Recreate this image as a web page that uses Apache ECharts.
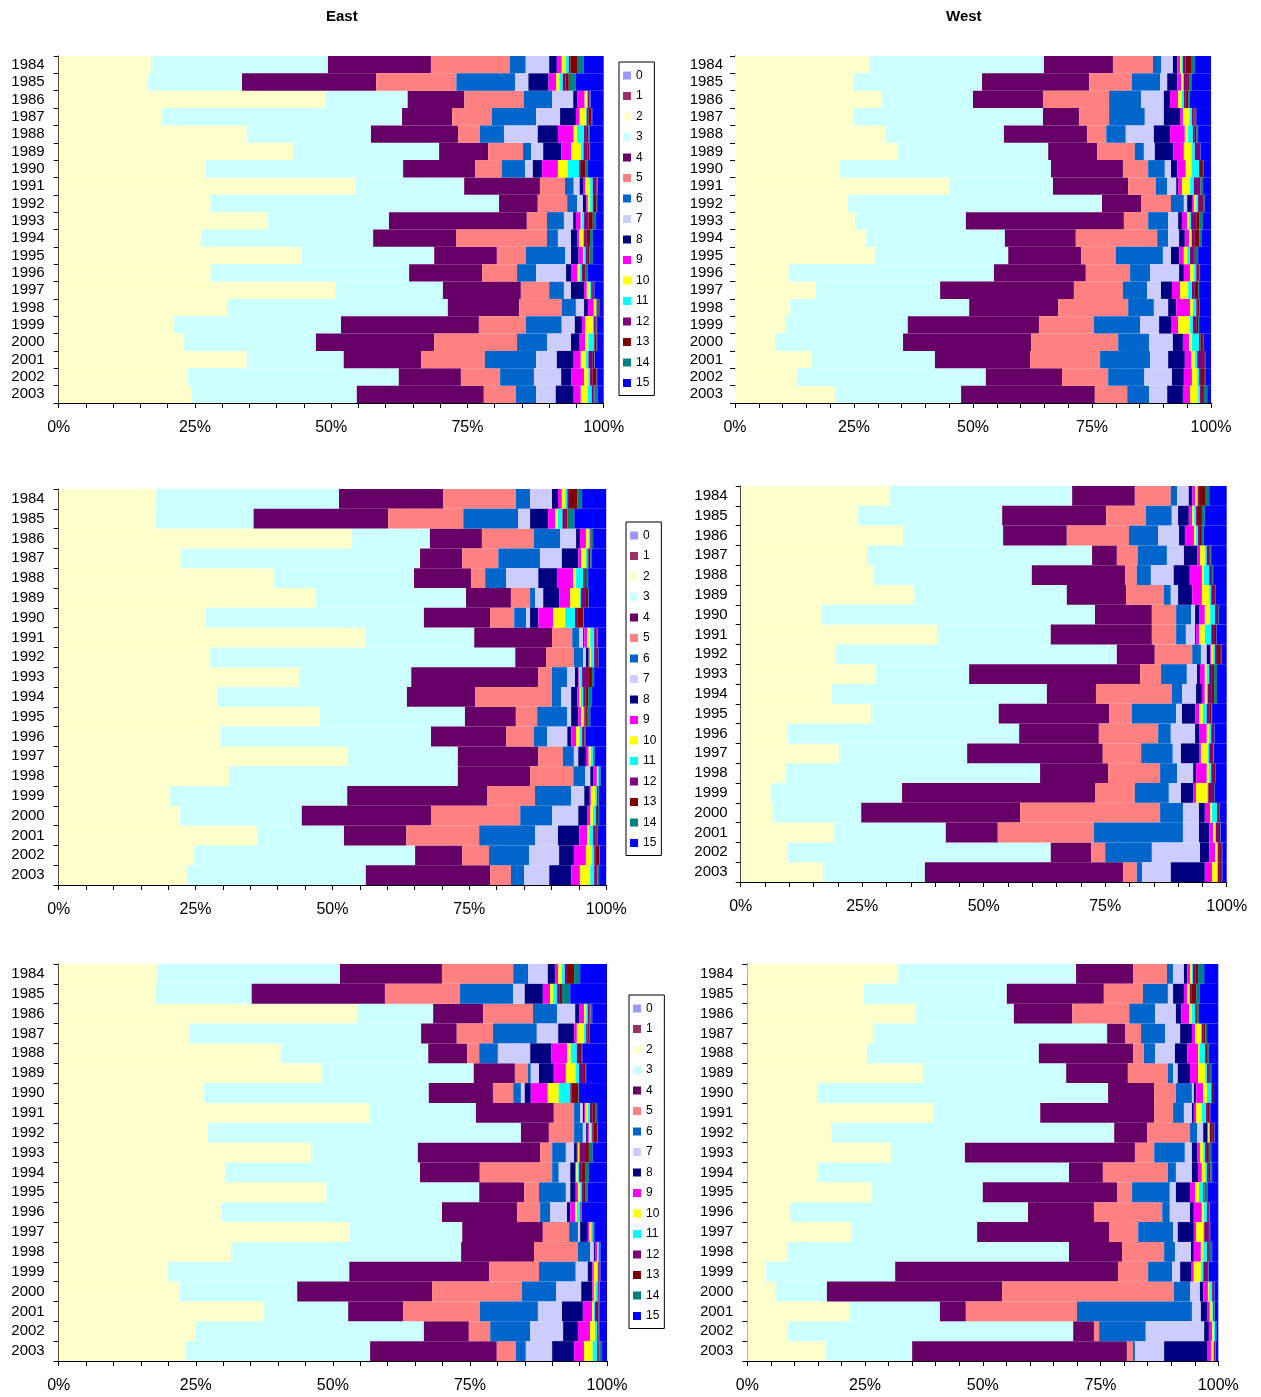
<!DOCTYPE html>
<html><head><meta charset="utf-8">
<script src="https://cdn.jsdelivr.net/npm/echarts@6/dist/echarts.min.js"></script>
<style>html,body{margin:0;padding:0;background:#fff}#c{width:1261px;height:1397px}</style>
</head><body><div id="c"></div>
<script>
// ---------- data ----------
const years = ['1984','1985','1986','1987','1988','1989','1990','1991','1992','1993','1994','1995','1996','1997','1998','1999','2000','2001','2002','2003'];
const categories = ['0','1','2','3','4','5','6','7','8','9','10','11','12','13','14','15'];
const panelTitles = ['East','West'];
const xTickLabels = [0,25,50,75,100];

// each row: share of categories 0..15 for one year (top = 1984)
const eastTop = [
[0,0,16.9,32.5,18.9,14.5,2.9,4.3,1.4,0.9,0.7,0.6,0.3,1.2,1.2,3.7],
[0,0,16.4,17.2,24.6,14.7,10.8,2.4,3.7,1.4,0.6,0.6,0.5,0.6,1.3,5.1],
[0,0,49.0,15.1,10.4,10.9,5.2,3.9,0.8,1.3,0.4,0.2,0.2,0.1,0.2,2.4],
[0,0,18.8,44.2,9.2,7.3,8.1,4.4,2.9,0.7,1.1,0.2,0.3,0.6,0.1,2.1],
[0,0,34.5,22.8,16.0,4.0,4.4,6.2,3.7,2.9,0.6,1.3,0.5,0.3,0.2,2.6],
[0,0,43.0,26.8,9.0,6.4,1.5,2.2,3.3,1.8,1.8,0.5,0.7,0.4,0.1,2.5],
[0,0,27.0,36.2,13.2,4.9,4.3,1.4,1.7,2.9,1.8,2.1,0.3,0.9,0.4,2.9],
[0,0,54.4,20.0,13.9,4.6,1.6,1.1,0.6,0.4,0.9,0.5,0.7,0.1,0.1,1.1],
[0,0,27.8,53.0,7.1,5.4,1.8,1.1,0.6,0.3,0.4,0.5,0.2,0.5,0.1,1.2],
[0,0,38.4,22.2,25.3,3.7,3.1,1.7,0.5,0.9,0.2,0.4,0.8,0.8,0.6,1.4],
[0,0,26.1,31.6,15.2,16.7,2.0,2.4,1.2,0.3,0.7,0.2,0.5,0.6,0.5,2.0],
[0,0,44.6,24.3,11.5,5.3,7.2,1.1,1.4,0.8,0.2,0.3,0.4,0.3,0.6,2.0],
[0,0,27.9,36.4,13.4,6.4,3.5,5.5,0.9,1.2,0.4,0.4,0.4,0.3,0.4,2.9],
[0,0,50.7,19.8,14.3,5.2,2.7,1.3,2.4,0.5,0.6,0.2,0.3,0.2,0.1,1.7],
[0,0,30.9,40.5,13.1,7.8,2.6,1.5,0.7,1.1,0.3,0.2,0.2,0.2,0.1,0.8],
[0,0,21.2,30.6,25.3,8.6,6.6,2.4,1.3,0.6,1.4,0.2,0.3,0.2,0.1,1.2],
[0,0,23.0,24.2,21.7,15.2,5.5,4.4,1.6,1.0,0.6,1.0,0.1,0.4,0.1,1.2],
[0,0,34.5,17.8,14.2,11.7,9.4,3.8,3.1,1.3,0.9,0.5,0.8,0.3,0.1,1.6],
[0,0,23.7,38.7,11.4,7.2,6.2,5.0,1.9,2.3,0.8,0.3,0.5,0.7,0.1,1.2],
[0,0,24.4,30.3,23.3,5.9,3.7,3.6,3.3,1.3,1.3,0.7,0.3,0.2,0.6,1.1]
];
const westTop = [
[0,0,28.2,36.7,14.5,8.4,1.7,2.5,0.9,0.6,0.3,0.3,0.6,1.1,0.8,3.4],
[0,0,24.9,27.0,22.5,9.0,5.9,1.5,2.1,0.8,0.4,0.2,0.7,0.4,0.6,4.0],
[0,0,30.7,19.3,14.7,13.9,6.7,4.8,1.3,1.7,0.8,0.4,0.4,0.5,0.4,4.4],
[0,0,24.9,39.8,7.6,6.3,7.5,4.0,3.4,0.6,1.5,0.4,0.3,0.3,0.3,3.1],
[0,0,31.5,25.0,17.5,4.0,4.1,5.9,3.4,3.1,0.7,1.0,0.4,0.3,0.4,2.7],
[0,0,34.2,31.6,10.3,7.9,1.9,2.3,3.8,2.3,1.7,0.6,0.9,0.2,0.1,2.2],
[0,0,21.9,44.5,15.1,5.3,3.5,1.3,1.3,1.8,1.3,1.5,0.2,0.6,0.1,1.6],
[0,0,45.0,21.8,15.8,5.8,2.4,1.9,0.4,0.8,1.7,0.8,1.3,0.1,0.5,1.7],
[0,0,23.7,53.4,8.2,6.3,2.7,0.7,1.0,0.4,0.5,0.4,0.8,0.2,0.4,1.3],
[0,0,25.2,23.3,33.2,5.1,4.2,2.1,0.8,1.1,0.4,0.4,1.1,0.6,0.8,1.7],
[0,0,27.5,29.2,14.9,17.1,2.3,2.3,1.2,0.9,0.4,0.2,0.6,0.9,0.6,1.9],
[0,0,29.4,28.0,15.3,7.3,9.9,1.7,1.7,1.0,0.7,0.6,0.8,0.2,0.7,2.7],
[0,0,11.3,43.1,19.3,9.3,4.2,6.1,1.0,1.3,0.8,0.5,0.4,0.2,0.2,2.3],
[0,0,17.0,26.1,28.1,10.3,5.1,2.9,2.3,1.7,1.7,0.8,0.6,0.7,0.2,2.5],
[0,0,11.6,37.6,18.7,14.7,5.4,3.0,1.7,2.9,0.6,0.7,0.2,0.4,0.1,2.4],
[0,0,10.5,25.8,27.6,11.5,9.7,4.0,2.5,1.5,2.5,0.6,0.7,0.4,0.2,2.5],
[0,0,8.4,26.9,26.9,18.3,6.5,5.0,2.1,1.3,0.6,1.5,0.3,0.5,0.1,1.6],
[0,0,16.0,26.0,20.0,14.7,10.5,3.8,3.5,1.3,0.8,0.5,1.2,0.4,0.1,1.2],
[0,0,13.0,39.7,16.0,9.7,7.6,5.8,2.5,1.7,1.1,0.4,0.4,0.8,0.1,1.2],
[0,0,21.0,26.5,28.1,6.8,4.6,3.8,3.3,1.5,1.7,0.4,0.4,0.4,0.7,0.8]
];
const eastMid = [
[0,0,17.8,33.4,19.0,13.3,2.6,4.0,1.1,0.7,0.6,0.4,0.3,1.5,0.9,4.4],
[0,0,17.7,17.9,24.6,13.7,10.0,2.2,3.3,1.3,0.5,0.8,0.5,0.4,1.3,5.8],
[0,0,53.6,14.2,9.5,9.5,4.8,2.9,0.7,1.1,0.5,0.3,0.2,0.1,0.2,2.4],
[0,0,22.3,43.7,7.7,6.6,7.6,4.0,3.0,0.5,0.9,0.3,0.2,0.3,0.2,2.7],
[0,0,39.2,25.7,10.4,2.6,3.8,5.9,3.4,3.0,0.5,1.3,0.2,0.3,0.4,3.3],
[0,0,47.0,27.4,8.2,3.5,0.9,1.5,2.9,2.0,1.8,0.2,0.9,0.4,0.1,3.2],
[0,0,26.9,39.8,12.1,4.4,2.2,0.7,1.5,2.7,2.2,1.8,0.4,1.1,0.1,4.1],
[0,0,56.0,19.9,14.2,3.7,1.3,0.7,0.2,0.5,0.6,0.7,0.5,0.1,0.1,1.5],
[0,0,27.6,55.8,5.6,5.1,1.7,0.5,0.5,0.2,0.2,0.6,0.5,0.2,0.1,1.4],
[0,0,43.9,20.5,23.2,2.5,2.8,1.4,0.6,0.2,0.1,0.4,1.1,0.7,0.4,2.2],
[0,0,28.9,34.7,12.5,14.0,1.7,1.8,1.1,0.4,0.3,0.4,0.4,0.5,0.6,2.7],
[0,0,47.7,26.5,9.3,3.9,5.5,0.7,1.3,0.5,0.4,0.2,0.2,0.3,0.6,2.9],
[0,0,29.5,38.5,13.7,5.1,2.4,3.7,0.7,0.9,0.7,0.4,0.4,0.1,0.1,3.8],
[0,0,52.7,20.2,14.7,4.5,2.0,0.8,1.4,0.5,0.4,0.4,0.1,0.1,0.1,2.1],
[0,0,31.1,41.8,13.2,7.9,2.2,0.9,0.5,0.7,0.2,0.2,0.1,0.1,0.1,1.0],
[0,0,20.3,32.4,25.6,8.7,6.6,2.4,1.0,0.2,0.8,0.3,0.2,0.1,0.1,1.3],
[0,0,22.2,22.2,23.6,16.3,5.8,4.8,1.6,0.6,0.5,0.5,0.2,0.2,0.2,1.3],
[0,0,36.2,15.9,11.4,13.3,10.2,4.2,3.9,1.4,0.4,0.7,0.5,0.2,0.1,1.6],
[0,0,24.7,40.4,8.6,4.9,7.3,5.5,2.7,2.2,1.1,0.4,0.3,0.6,0.1,1.2],
[0,0,23.4,32.7,22.7,3.8,2.4,4.6,4.0,1.6,1.9,0.7,0.5,0.1,0.3,1.3]
];
const westMid = [
[0,0,30.7,37.5,12.9,7.4,1.3,2.4,0.7,0.6,0.4,0.2,0.4,1.2,0.7,3.6],
[0,0,24.1,29.7,21.4,8.2,5.3,1.3,2.2,0.7,0.4,0.4,0.4,0.8,0.6,4.5],
[0,0,33.4,20.6,13.1,12.8,6.0,4.3,1.2,1.9,0.4,0.4,0.4,0.4,0.4,4.7],
[0,0,26.0,46.3,5.1,4.3,6.0,3.5,2.7,0.6,1.0,0.4,0.5,0.2,0.2,3.2],
[0,0,27.4,32.5,19.2,2.4,2.9,4.7,3.3,2.5,0.4,1.1,0.4,0.2,0.2,2.8],
[0,0,35.7,31.4,12.2,7.8,1.4,1.5,2.9,2.0,1.5,0.4,0.6,0.2,0.2,2.2],
[0,0,16.7,56.2,11.7,5.0,3.1,0.8,0.8,1.2,1.1,1.0,0.4,0.2,0.2,1.6],
[0,0,40.4,23.4,20.8,5.0,2.0,1.9,0.2,0.6,1.2,1.3,0.6,0.4,0.1,2.1],
[0,0,19.6,57.8,7.8,7.7,1.8,1.2,0.7,0.2,0.4,0.4,0.4,0.8,0.1,1.1],
[0,0,27.8,19.2,35.2,4.3,5.3,2.1,0.6,1.0,0.4,0.5,0.6,0.4,0.6,2.0],
[0,0,18.8,44.2,10.1,15.6,2.1,2.9,1.2,0.6,0.4,0.2,0.7,0.6,0.6,2.0],
[0,0,26.8,26.3,22.7,4.7,9.1,1.2,2.7,0.8,0.8,0.8,0.5,0.4,0.2,3.0],
[0,0,9.7,47.6,16.4,12.2,2.6,5.0,0.8,1.6,0.5,0.4,0.4,0.2,0.1,2.5],
[0,0,20.2,26.4,27.9,7.9,6.5,1.7,3.7,0.4,1.4,0.3,0.6,0.3,0.1,2.6],
[0,0,9.3,52.3,14.0,10.7,3.5,3.3,0.6,2.2,0.5,0.4,0.4,0.4,0.2,2.2],
[0,0,6.2,27.0,39.7,8.2,7.0,2.5,2.5,0.6,2.3,0.2,0.8,0.4,0.1,2.5],
[0,0,6.6,18.2,32.7,28.8,4.7,3.3,1.2,1.1,0.4,1.0,0.2,0.2,0.1,1.5],
[0,0,19.2,23.0,10.7,19.8,18.3,3.3,2.1,0.8,0.4,0.2,0.6,0.3,0.1,1.2],
[0,0,9.7,54.1,8.3,2.9,9.6,9.9,1.9,1.2,0.4,0.2,0.4,0.4,0.1,0.9],
[0,0,16.9,21.0,40.8,2.8,1.1,5.9,7.0,1.5,1.0,0.2,0.4,0.4,0.1,0.9]
];
const eastBot = [
[0,0,17.9,33.4,18.6,13.0,2.7,3.6,1.3,0.6,0.7,0.5,0.4,1.3,1.1,4.9],
[0,0,17.6,17.6,24.3,13.7,9.7,2.1,3.3,1.3,0.6,0.7,0.5,0.4,1.5,6.7],
[0,0,54.6,13.7,9.1,9.1,4.4,3.3,0.7,0.9,0.4,0.3,0.3,0.2,0.3,2.7],
[0,0,23.8,42.3,6.5,6.6,8.0,3.9,2.9,0.5,1.3,0.4,0.3,0.2,0.1,3.2],
[0,0,40.5,26.9,7.1,2.2,3.4,5.9,3.8,2.9,0.7,1.1,0.4,0.5,0.1,4.5],
[0,0,48.0,27.7,7.5,2.4,0.5,1.5,2.7,2.2,1.8,0.6,0.9,0.3,0.1,3.8],
[0,0,26.5,41.0,11.7,3.7,1.4,0.7,1.1,3.1,2.0,2.1,0.2,1.3,0.1,5.1],
[0,0,56.6,19.5,14.2,3.7,1.1,0.5,0.2,0.2,0.5,0.4,0.5,0.4,0.4,1.8],
[0,0,27.2,57.1,5.1,4.6,1.6,0.6,0.3,0.2,0.3,0.3,0.3,0.6,0.1,1.7],
[0,0,46.0,19.5,22.3,2.2,2.5,1.5,0.5,0.2,0.2,0.1,1.0,0.7,0.7,2.6],
[0,0,30.3,35.6,10.9,13.2,1.2,2.1,0.9,0.2,0.3,0.2,0.5,0.6,0.7,3.3],
[0,0,48.8,27.9,8.2,2.7,4.9,0.8,1.0,0.4,0.4,0.3,0.4,0.2,0.5,3.5],
[0,0,29.8,40.1,13.7,4.2,1.8,3.1,0.6,0.9,0.3,0.6,0.1,0.1,0.1,4.6],
[0,0,53.1,20.5,14.7,4.8,1.6,0.4,1.4,0.3,0.3,0.3,0.1,0.1,0.1,2.3],
[0,0,31.4,42.0,13.3,8.0,2.2,0.7,0.2,0.4,0.2,0.1,0.1,0.1,0.1,1.2],
[0,0,19.9,33.1,25.5,9.1,6.7,2.2,0.8,0.3,0.6,0.2,0.2,0.1,0.1,1.2],
[0,0,22.1,21.4,24.6,16.4,6.2,4.6,2.0,0.3,0.3,0.4,0.2,0.1,0.1,1.3],
[0,0,37.4,15.4,10.0,14.0,10.6,4.4,3.8,1.7,0.3,0.2,0.6,0.1,0.1,1.4],
[0,0,24.9,41.7,8.2,3.9,7.3,6.0,2.7,2.2,0.9,0.4,0.2,0.1,0.1,1.4],
[0,0,23.2,33.6,23.1,3.5,1.8,4.8,4.0,1.8,1.6,0.8,0.3,0.1,0.5,0.9]
];
const westBot = [
[0,0,32.0,37.8,12.1,7.2,1.3,2.3,0.7,0.6,0.4,0.2,0.5,0.6,1.3,3.0],
[0,0,24.8,30.3,20.6,8.3,5.3,1.1,2.3,0.7,0.4,0.2,0.4,0.9,0.8,3.9],
[0,0,35.8,20.8,12.4,12.1,5.5,4.4,1.1,1.7,0.6,0.7,0.2,0.2,0.4,4.1],
[0,0,26.7,49.7,3.8,3.4,5.1,3.2,2.5,0.7,1.2,0.2,0.3,0.4,0.4,2.4],
[0,0,25.4,36.5,20.0,2.3,2.4,4.2,2.6,2.3,0.3,1.2,0.2,0.2,0.4,2.0],
[0,0,37.3,30.4,13.1,8.5,1.1,1.0,2.6,1.7,1.5,0.4,0.4,0.2,0.3,1.5],
[0,0,14.8,61.8,9.8,4.6,3.4,0.4,0.5,1.5,0.8,0.9,0.1,0.3,0.0,1.1],
[0,0,39.6,22.6,24.2,4.0,2.3,1.7,0.4,0.5,1.2,0.9,0.4,0.4,0.1,1.7],
[0,0,17.8,60.1,7.0,9.1,1.5,1.3,0.8,0.2,0.2,0.2,0.5,0.4,0.1,0.8],
[0,0,30.5,15.7,36.1,4.1,6.5,1.5,1.1,0.6,0.7,0.4,0.4,0.4,0.5,1.5],
[0,0,14.8,53.5,7.2,13.8,1.7,3.4,1.3,0.8,0.7,0.4,0.4,0.3,0.4,1.3],
[0,0,26.5,23.5,28.5,3.2,8.0,1.3,3.0,1.1,0.8,0.9,0.2,0.1,0.7,2.2],
[0,0,9.1,50.5,14.0,14.5,1.6,4.3,0.8,1.7,0.5,0.6,0.4,0.1,0.1,1.8],
[0,0,22.2,26.6,28.0,6.2,7.4,1.0,3.4,0.5,1.5,0.2,1.0,0.2,0.1,1.7],
[0,0,8.6,59.7,11.3,8.9,2.3,3.4,0.6,1.5,0.5,0.8,0.4,0.2,0.5,1.3],
[0,0,4.0,27.4,47.3,6.4,5.1,1.7,2.3,0.6,1.5,0.5,1.0,0.1,0.1,2.0],
[0,0,5.9,11.0,37.2,36.5,3.4,2.1,0.7,1.0,0.3,0.6,0.2,0.2,0.1,0.8],
[0,0,21.6,19.3,5.5,23.6,24.4,1.9,1.3,0.6,0.5,0.2,0.2,0.1,0.1,0.7],
[0,0,8.6,60.6,4.4,1.1,9.9,12.4,1.0,0.7,0.4,0.2,0.1,0.1,0.1,0.4],
[0,0,16.7,18.3,45.6,1.3,0.4,6.2,9.1,0.9,0.4,0.2,0.2,0.1,0.1,0.5]
];

// ---------- styles & layout ----------
const colors = ['#9999FF','#993366','#FFFFCC','#CCFFFF','#660066','#FF8080','#0066CC','#CCCCFF',
                '#000080','#FF00FF','#FFFF00','#00FFFF','#800080','#800000','#008080','#0000FF'];
const FONT = '"Liberation Sans", Arial, sans-serif';
const panels = [
  {rows: eastTop, grid: {left: 58.7, top: 56,  width: 545,   height: 347}, yMargin: 14},
  {rows: westTop, grid: {left: 735,  top: 56,  width: 476,   height: 347}, yMargin: 12},
  {rows: eastMid, grid: {left: 58.7, top: 489, width: 547.5, height: 396}, yMargin: 14},
  {rows: westMid, grid: {left: 740.7,top: 486, width: 486,   height: 396}, yMargin: 13},
  {rows: eastBot, grid: {left: 58.7, top: 964, width: 548.3, height: 397}, yMargin: 14},
  {rows: westBot, grid: {left: 747.3,top: 964, width: 471,   height: 397}, yMargin: 14}
];
const legendPos = [{left: 619, top: 62}, {left: 626, top: 522}, {left: 629, top: 995}];

const grids = [], xAxes = [], yAxes = [], series = [];
panels.forEach((p, pi) => {
  grids.push(Object.assign({containLabel: false}, p.grid));
  xAxes.push({
    gridIndex: pi, type: 'value', min: 0, max: 100, interval: 5,
    axisLine: {show: true, lineStyle: {color: '#000', width: 1}},
    axisTick: {show: true, length: 5, lineStyle: {color: '#000'}},
    splitLine: {show: false},
    axisLabel: {
      color: '#000', fontSize: 16, fontFamily: FONT, margin: 17,
      formatter: v => xTickLabels.indexOf(v) >= 0 ? v + '%' : ''
    }
  });
  yAxes.push({
    gridIndex: pi, type: 'category', data: years, inverse: true,
    axisLine: {show: true, lineStyle: {color: '#000', width: 1}},
    axisTick: {show: true, length: 5, lineStyle: {color: '#000'}},
    axisLabel: {color: '#000', fontSize: 15, fontFamily: FONT, margin: p.yMargin, interval: 0}
  });
  const sums = p.rows.map(r => r.reduce((a, b) => a + b, 0));
  categories.forEach((cat, k) => {
    series.push({
      type: 'bar', name: cat, stack: 'panel' + pi,
      xAxisIndex: pi, yAxisIndex: pi,
      barCategoryGap: '0%', barGap: '0%',
      itemStyle: {color: colors[k]},
      silent: true,
      data: p.rows.map((r, i) => r[k] / sums[i] * 100)
    });
  });
});

const legends = legendPos.map(pos => ({
  left: pos.left, top: pos.top, orient: 'vertical', data: categories,
  icon: 'rect', itemWidth: 8, itemHeight: 8, itemGap: 5.5,
  padding: [6, 5, 5, 4], borderColor: '#000', borderWidth: 1,
  selectedMode: false,
  textStyle: {fontSize: 12, color: '#000', fontFamily: FONT, lineHeight: 15}
}));

const chart = echarts.init(document.getElementById('c'), null, {renderer: 'canvas'});
chart.setOption({
  animation: false,
  backgroundColor: '#fff',
  title: [
    {text: panelTitles[0], left: 326, top: 9, padding: 0, textStyle: {fontSize: 15, fontWeight: 'bold', color: '#000', fontFamily: FONT}},
    {text: panelTitles[1], left: 946, top: 9, padding: 0, textStyle: {fontSize: 15, fontWeight: 'bold', color: '#000', fontFamily: FONT}}
  ],
  legend: legends,
  grid: grids, xAxis: xAxes, yAxis: yAxes, series: series
});
</script></body></html>
